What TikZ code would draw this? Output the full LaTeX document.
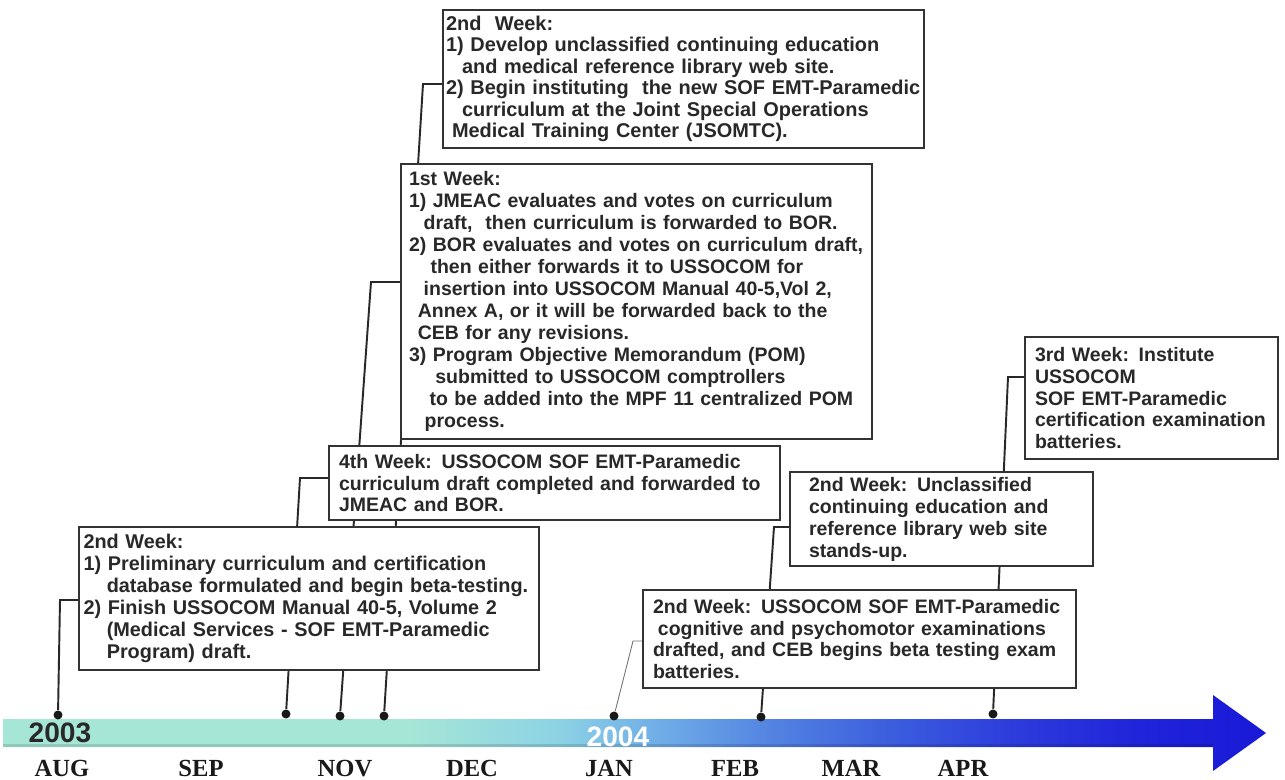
\documentclass[tikz,border=0pt]{standalone}
\usepackage{fontspec}
\setmainfont{Liberation Sans}
\newfontfamily\monthfont{Liberation Serif}
\usetikzlibrary{backgrounds}

\definecolor{inkgray}{RGB}{40,40,40}
\definecolor{bandA}{RGB}{166,230,214}
\definecolor{bandB}{RGB}{140,210,228}
\definecolor{bandC}{RGB}{118,182,232}
\definecolor{bandD}{RGB}{85,135,226}
\definecolor{bandE}{RGB}{60,95,222}
\definecolor{bandF}{RGB}{45,60,220}
\definecolor{bandG}{RGB}{32,36,218}
\definecolor{bandH}{RGB}{25,25,215}
\pgfdeclarehorizontalshading{timeband}{100bp}{color(0bp)=(bandA); color(25bp)=(bandA); color(41bp)=(bandA); color(47bp)=(bandB); color(50bp)=(bandC); color(55bp)=(bandD); color(60bp)=(bandE); color(65bp)=(bandF); color(70bp)=(bandG); color(75bp)=(bandH); color(100bp)=(bandH)}

\begin{document}
\begin{tikzpicture}[x=0.02cm, y=-0.02cm,
	note/.style={draw=black!80, line width=1.2pt, fill=white, anchor=north west, align=left, inner ysep=0.1cm, text=inkgray, font=\bfseries\fontsize{11.1}{12.5}\selectfont},
	dot/.style={circle, fill=black!90, inner sep=0pt, minimum size=0.18cm},
	leg/.style={line width=1.1pt, draw=inkgray},
	legthin/.style={line width=0.5pt, draw=black!55},
	month/.style={anchor=base, font=\monthfont\bfseries\fontsize{14}{16}\selectfont, text=black!90},
	year/.style={font=\bfseries\fontsize{16}{18}\selectfont}]
	\useasboundingbox (0,0) rectangle (1285,780);

	\shade[shading=timeband] (3,719) -- (1213,719) -- (1213,695) -- (1266,733) -- (1213,771) -- (1213,747) -- (3,747) -- cycle;
	\fill[black, opacity=0.13] (3,744) rectangle (1213,747);
	\node [year, text=inkgray] (y2003) at (60,733) {2003};
	\node [year, text=white] (y2004) at (618,737) {2004};

	\node [month] (mAug) at (62,776) {AUG};
	\node [month] (mSep) at (201,776) {SEP};
	\node [month] (mNov) at (345,776) {NOV};
	\node [month] (mDec) at (472,776) {DEC};
	\node [month] (mJan) at (609,776) {JAN};
	\node [month] (mFeb) at (735,776) {FEB};
	\node [month] (mMar) at (851,776) {MAR};
	\node [month] (mApr) at (963,776) {APR};

	\node [dot] (dAug) at (58,715) {};
	\node [dot] (dOct) at (286,714) {};
	\node [dot] (dNovA) at (340,716) {};
	\node [dot] (dNovB) at (384,716) {};
	\node [dot] (dJan) at (614,716) {};
	\node [dot] (dFeb) at (761,717) {};
	\node [dot] (dApr) at (993,714) {};

	\node [note, text width=9.02cm, inner xsep=0.09cm, minimum height=2.86cm, font=\bfseries\fontsize{11.3}{12.6}\selectfont] (wkAug) at (78,526) {2nd Week:\\
		1) Preliminary curriculum and certification\\
		\hspace*{1.17em}database formulated and begin beta-testing.\\
		2) Finish USSOCOM Manual 40-5, Volume 2\\
		\hspace*{1.17em}(Medical Services - SOF EMT-Paramedic\\
		\hspace*{1.17em}Program) draft.};
	\node [note, text width=8.62cm, inner xsep=0.2cm, minimum height=1.48cm] (wkOct) at (328,445) {4th Week: USSOCOM SOF EMT-Paramedic\\
		curriculum draft completed and forwarded to\\
		JMEAC and BOR.};
	\node [note, text width=9.1cm, inner xsep=0.16cm, minimum height=5.5cm] (wkNovA) at (400,163) {1st Week:\\
		1) JMEAC evaluates and votes on curriculum\\
		\hspace*{0.75em}draft, \ then curriculum is forwarded to BOR.\\
		2) BOR evaluates and votes on curriculum draft,\\
		\hspace*{1.1em}then either forwards it to USSOCOM for\\
		\hspace*{0.75em}insertion into USSOCOM Manual 40-5,Vol 2,\\
		\hspace*{0.45em}Annex A, or it will be forwarded back to the\\
		\hspace*{0.45em}CEB for any revisions.\\
		3) Program Objective Memorandum (POM)\\
		\hspace*{1.35em}submitted to USSOCOM comptrollers\\
		\hspace*{1.05em}to be added into the MPF 11 centralized POM\\
		\hspace*{0.8em}process.};
	\node [note, text width=9.5cm, inner xsep=0.06cm, minimum height=2.76cm, font=\bfseries\fontsize{11.35}{12.2}\selectfont] (wkNovB) at (442,9) {2nd \ Week:\\
		1) Develop unclassified continuing education\\
		\hspace*{0.8em}and medical reference library web site.\\
		2) Begin instituting \ the new SOF EMT-Paramedic\\
		\hspace*{0.8em}curriculum at the Joint Special Operations\\
		\hspace*{0.3em}Medical Training Center (JSOMTC).};
	\node [note, text width=5.3cm, inner xsep=0.38cm, minimum height=1.88cm] (wkFeb) at (789,471) {2nd Week: Unclassified\\
		continuing education and\\
		reference library web site\\
		stands-up.};
	\node [note, text width=8.26cm, inner xsep=0.2cm, minimum height=1.96cm] (wkJan) at (642,589) {2nd Week: USSOCOM SOF EMT-Paramedic\\
		\hspace*{0.25em}cognitive and psychomotor examinations\\
		drafted, and CEB begins beta testing exam\\
		batteries.};
	\node [note, text width=4.66cm, inner xsep=0.2cm, minimum height=2.44cm] (wkApr) at (1024,336) {3rd Week: Institute\\
		USSOCOM\\
		SOF EMT-Paramedic\\
		certification examination\\
		batteries.};

	\coordinate (kAug) at (60,600);
	\coordinate (kOct) at (300,478);
	\coordinate (kNovA) at (371,282);
	\coordinate (kNovB) at (423,84);
	\coordinate (kJan) at (633,641);
	\coordinate (kFeb) at (774,527);
	\coordinate (kApr) at (1008,377);

	\begin{scope}[on background layer]
		\draw [leg] (wkAug.west |- kAug) -- (kAug) -- (dAug);
		\draw [leg] (wkOct.west |- kOct) -- (kOct) -- (dOct);
		\draw [leg] (wkNovA.west |- kNovA) -- (kNovA) -- (dNovA);
		\draw [leg] (wkNovB.west |- kNovB) -- (kNovB) -- (dNovB);
		\draw [legthin] (wkJan.west |- kJan) -- (kJan) -- (dJan);
		\draw [leg] (wkFeb.west |- kFeb) -- (kFeb) -- (dFeb);
		\draw [leg] (wkApr.west |- kApr) -- (kApr) -- (dApr);
	\end{scope}
\end{tikzpicture}
\end{document}
